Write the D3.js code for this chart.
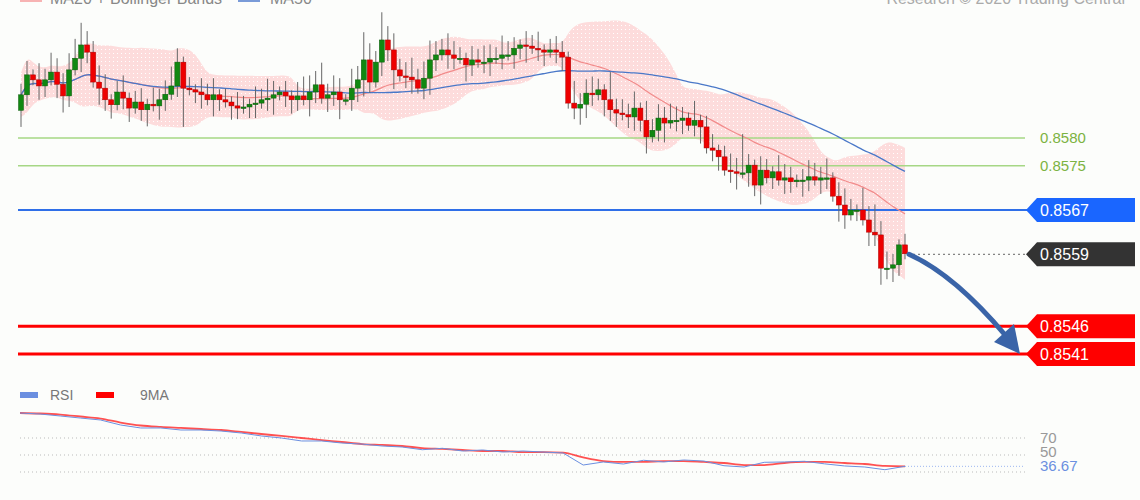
<!DOCTYPE html>
<html><head><meta charset="utf-8">
<script src="https://cdn.jsdelivr.net/npm/d3@7"></script>
<style>body{margin:0;background:#fcfdfb;}svg{display:block;font-family:"Liberation Sans",Arial,sans-serif;}</style>
</head><body><svg id="c" width="1140" height="500"></svg>
<script>
const closes = [
0.85878,0.85914,0.85905,0.85894,0.85905,0.85919,0.85897,0.85876,0.85923,0.85944,0.85968,0.85955,0.85901,0.85890,0.85869,0.85860,0.85883,0.85872,0.85854,0.85865,0.85851,0.85861,0.85858,0.85869,0.85879,0.85894,0.85937,
0.85890,0.85887,0.85883,0.85878,0.85869,0.85878,0.85869,0.85865,0.85858,0.85854,0.85856,0.85861,0.85863,0.85869,0.85872,0.85878,0.85883,0.85876,0.85869,0.85876,
0.85869,0.85883,0.85896,0.85872,0.85878,0.85883,0.85869,0.85869,0.85890,0.85905,0.85941,0.85901,0.85937,0.85977,0.85959,0.85923,0.85912,0.85910,0.85905,0.85890,
0.85908,0.85941,0.85950,0.85959,0.85950,0.85944,0.85944,0.85932,0.85941,0.85937,0.85937,0.85944,0.85944,0.85950,0.85950,0.85962,0.85968,0.85966,0.85962,0.85959,0.85955,0.85959,0.85955,0.85946,
0.85863,0.85854,0.85861,0.85881,0.85878,0.85887,0.85869,0.85851,0.85845,0.85842,0.85838,0.85854,0.85832,0.85802,0.85814,0.85836,0.85827,0.85832,0.85832,0.85836,0.85823,0.85832,0.85820,0.85782,
0.85778,0.85766,0.85742,0.85739,0.85737,0.85737,0.85751,0.85715,0.85742,0.85728,0.85739,0.85724,0.85728,0.85721,0.85724,0.85724,0.85730,0.85724,0.85728,0.85728,0.85695,0.85679,0.85661,0.85670,0.85670,0.85652,0.85630,0.85625,0.85565,0.85565,0.85571,0.85607,0.85591];
const opens0 = [0.85850];
const wickUpPips = [2,2.5,1,3,2,3.5,2.5,2,3,3.5,4,2.5,2,3,2.5,1,2,3,1,2,2.5,1,3,2,2.5,3.5,2.5,1,2,1,2.5,2,3,1,2,1,2.5,2,1,3,2,3.5,2.5,1,2,1,2.5,3.5,3,2.5,4,2,3,2.5,1,3.5,2.5,5,3,2,5,2.5,3,2,2.5,3.5,2,3,3.5,2.5,2,3,2.5,2,1,2.5,2,3,2.5,2,3.5,2.5,2,1,2.5,2,3,1,2,2.5,2,1,4,2,2.5,3,2,1,5,2,2.5,2,3,1,3.5,2,2.5,2,3,2.5,2,1,3.5,1,2,2.5,1,2,3,2.5,7,2,1,2.5,2,1,3,2.5,2,1,2,3,2.5,2,3.5,1,2.5,3,2,1,4,2.5,5,2.5,3,2,1,2];
const wickDnPips = [3,2,1,2.5,2,1,2.5,3,2,1,2.5,2,1,3,2,2.5,1,2,2.5,1,2,3,1,2.5,2,1,2,7,1,2,2.5,1,3,2,1,2.5,2,1,2,2.5,1,2,3,1,2,2.5,2,1,3,2,1,2.5,2,3.5,1,2,2.5,3,2,1,2.5,2,3.5,1,2,2.5,1,2,3,2,1,2.5,2,1,3,2,1,2,2.5,1,2,1,2.5,2,3,1,2,2.5,1,2,2.5,1,2,3,2.5,2,1,3,2,2.5,1,2,2.5,2,3,1,2,3.5,1,2,2.5,1,2,3,1,2,2.5,1,2,3,1,2.5,2,3.5,1,2,1,2.5,2,1,3,2,1,2.5,2,1,3,2.5,1,2,1,2.5,2,3,2,2.5,2,1];
const levelsGreen = [0.8580, 0.8575];
const levelBlue = 0.8567;
const levelLast = 0.8559;
const levelsRed = [0.8546, 0.8541];
const rsiValues = [99.4,98.2,95.9,93.5,91.2,85.3,81.8,81.8,79.4,79.4,78.2,75.9,72.4,70,66.5,66.5,64.1,62.9,60.6,59.4,56.2,57.9,54.7,55.9,53.5,54.7,53.5,52.4,38.2,41.8,39.4,43.8,41.8,44.1,42.9,37.4,35.9,41.4,41.8,42.6,39.6,37.1,35.9,32.7,36.7];
const rsiMA = [99.4,98.8,97.6,95.3,92.9,88.2,84.7,83,81.8,80.6,79.4,77.1,74.7,72.4,70,67.6,65.3,62.9,61.8,60.6,58.2,57.1,55.9,54.7,54.7,53.5,53.5,52.9,47.1,42.9,41.8,41.8,42.9,42.9,41.8,40.6,38.2,38.2,40.6,41.8,41.8,40.6,39.4,37.1,36.7];
const rsiLevels = [70,50,30];
const rsiLast = 36.67;

const svg = d3.select("#c");
const n = closes.length;
const opens = closes.map((c,i)=> i===0 ? opens0[0] : closes[i-1]);
const x = d3.scaleLinear().domain([0,n-1]).range([21,905]);
const y = d3.scaleLinear().domain([0.8580,0.8541]).range([138,354]);
const pip = 0.0001;

const defs = svg.append("defs");
const pat = defs.append("pattern").attr("id","dots").attr("width",4).attr("height",4).attr("patternUnits","userSpaceOnUse");
pat.append("rect").attr("width",4).attr("height",4).attr("fill","#fddcdc");
pat.append("rect").attr("x",1).attr("y",1).attr("width",1).attr("height",1).attr("fill","#fff");

function sma(arr,p,i){const s=arr.slice(Math.max(0,i-p+1),i+1);return d3.mean(s);}
const ma20 = closes.map((c,i)=>sma(closes,20,i));
const ma50 = closes.map((c,i)=>sma(closes,50,i));
const sd20 = closes.map((c,i)=>{const s=closes.slice(Math.max(0,i-19),i+1);return s.length>1?d3.deviation(s):0.0002;});
const bb = closes.map((c,i)=>({i,u:ma20[i]+2*sd20[i],l:ma20[i]-2*sd20[i]}));
svg.append("path").datum(bb).attr("fill","url(#dots)")
  .attr("d",d3.area().x(d=>x(d.i)).y0(d=>y(d.l)).y1(d=>y(d.u)).curve(d3.curveBasis));

levelsGreen.forEach(v=>{
  svg.append("line").attr("x1",18).attr("x2",1025).attr("y1",y(v)).attr("y2",y(v)).attr("stroke","#a6d785").attr("stroke-width",1.5);
  svg.append("text").attr("x",1040).attr("y",y(v)+5).attr("fill","#7cb342").attr("font-size",15).text(v.toFixed(4));
});
svg.append("line").attr("x1",18).attr("x2",1030).attr("y1",y(levelBlue)).attr("y2",y(levelBlue)).attr("stroke","#2f6fe8").attr("stroke-width",2);
levelsRed.forEach(v=>{
  svg.append("line").attr("x1",18).attr("x2",1030).attr("y1",y(v)).attr("y2",y(v)).attr("stroke","#ff0000").attr("stroke-width",3);
});
svg.append("line").attr("x1",908).attr("x2",1028).attr("y1",y(levelLast)).attr("y2",y(levelLast)).attr("stroke","#666").attr("stroke-dasharray","2,3");

function tag(v,fill){
  const yy=y(v);
  svg.append("path").attr("d",`M1026,${yy} L1037,${yy-12} L1135,${yy-12} L1135,${yy+12} L1037,${yy+12} Z`).attr("fill",fill);
  svg.append("text").attr("x",1040).attr("y",yy+6).attr("fill","#fff").attr("font-size",16).text(v.toFixed(4));
}
tag(levelBlue,"#1a66ff"); tag(levelLast,"#333333"); levelsRed.forEach(v=>tag(v,"#ff0000"));

svg.append("path").datum(ma20).attr("fill","none").attr("stroke","#f28b8b").attr("stroke-width",1.2)
  .attr("d",d3.line().x((d,i)=>x(i)).y(d=>y(d)).curve(d3.curveBasis));
svg.append("path").datum(ma50).attr("fill","none").attr("stroke","#4a78c8").attr("stroke-width",1.3)
  .attr("d",d3.line().x((d,i)=>x(i)).y(d=>y(d)).curve(d3.curveBasis));

const g = svg.append("g");
closes.forEach((c,i)=>{
  const o=opens[i], hi=Math.max(o,c)+(wickUpPips[i]??2)*pip, lo=Math.min(o,c)-(wickDnPips[i]??2)*pip;
  const up=c>=o;
  g.append("line").attr("x1",x(i)).attr("x2",x(i)).attr("y1",y(hi)).attr("y2",y(lo)).attr("stroke","#666").attr("stroke-width",1);
  const t=y(Math.max(o,c)), b=y(Math.min(o,c));
  g.append("rect").attr("x",x(i)-2.5).attr("width",5).attr("y",t).attr("height",Math.max(1.5,b-t))
   .attr("fill",up?"#118811":"#ee0000").attr("stroke",up?"#0a5a0a":"#a00").attr("stroke-width",0.5);
});

const ax0=x(n-1)+4, ay0=y(levelLast), ax1=1020, ay1=y(levelsRed[1]);
svg.append("path").attr("d",`M${ax0},${ay0} Q${ax0+45},${ay0+20} ${ax1-14},${ay1-18}`)
  .attr("fill","none").attr("stroke","#3a64a8").attr("stroke-width",5).attr("stroke-linecap","round");
svg.append("path").attr("d",`M${ax1},${ay1} L${ax1-26},${ay1-12} L${ax1-6},${ay1-30} Z`).attr("fill","#3a64a8");

svg.append("rect").attr("x",20).attr("y",-4).attr("width",22).attr("height",6).attr("fill","#f7b3b3");
svg.append("text").attr("x",50).attr("y",4).attr("fill","#888").attr("font-size",16).text("MA20 + Bollinger Bands");
svg.append("rect").attr("x",238).attr("y",-4).attr("width",22).attr("height",6).attr("fill","#7a9bd8");
svg.append("text").attr("x",270).attr("y",4).attr("fill","#888").attr("font-size",16).text("MA50");
svg.append("text").attr("x",1125).attr("y",4).attr("text-anchor","end").attr("fill","#aaa").attr("font-size",16).text("Research © 2020 Trading Central");

const ry = d3.scaleLinear().domain([70,50]).range([438,455]);
const rx = d3.scaleLinear().domain([0,rsiValues.length-1]).range([20,905]);
rsiLevels.forEach(v=>svg.append("line").attr("x1",20).attr("x2",1025).attr("y1",ry(v)).attr("y2",ry(v)).attr("stroke","#bbb").attr("stroke-dasharray","1,3"));
svg.append("line").attr("x1",905).attr("x2",1025).attr("y1",ry(rsiLast)).attr("y2",ry(rsiLast)).attr("stroke","#9db6f0").attr("stroke-dasharray","1,2");
svg.append("path").datum(rsiMA).attr("fill","none").attr("stroke","#f33").attr("stroke-width",1.8).attr("stroke-opacity",0.85)
  .attr("d",d3.line().x((d,i)=>rx(i)).y(d=>ry(d)).curve(d3.curveMonotoneX));
svg.append("path").datum(rsiValues).attr("fill","none").attr("stroke","#6b8fe0").attr("stroke-width",1)
  .attr("d",d3.line().x((d,i)=>rx(i)).y(d=>ry(d)));
svg.append("text").attr("x",1040).attr("y",ry(70)+5).attr("fill","#999").attr("font-size",15).text("70");
svg.append("text").attr("x",1040).attr("y",ry(50)+2).attr("fill","#999").attr("font-size",15).text("50");
svg.append("text").attr("x",1040).attr("y",ry(rsiLast)+5).attr("fill","#6b8fe0").attr("font-size",15).text(rsiLast.toFixed(2));
svg.append("rect").attr("x",20).attr("y",392).attr("width",18).attr("height",6).attr("fill","#6b8fe0");
svg.append("text").attr("x",50).attr("y",400).attr("fill","#777").attr("font-size",14).text("RSI");
svg.append("rect").attr("x",96).attr("y",392).attr("width",18).attr("height",6).attr("fill","#f00");
svg.append("text").attr("x",140).attr("y",400).attr("fill","#777").attr("font-size",14).text("9MA");
</script></body></html>
